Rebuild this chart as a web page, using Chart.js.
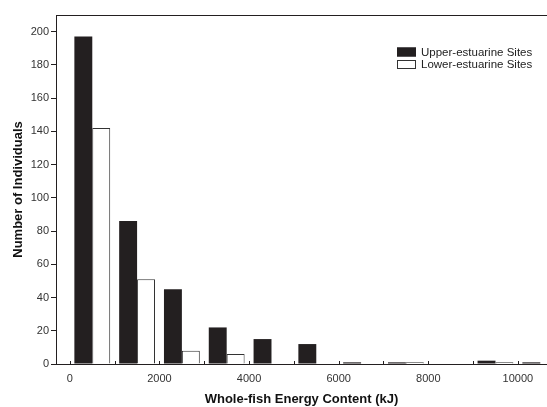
<!DOCTYPE html>
<html>
<head>
<meta charset="utf-8">
<script src="https://cdn.jsdelivr.net/npm/chart.js"></script>
<style>
html,body{margin:0;padding:0;background:#fff;overflow:hidden;}
#wrap{width:547px;height:407px;position:relative;}
</style>
</head>
<body>
<div id="wrap"><canvas id="c" width="547" height="407"></canvas></div>
<script>
// Bin centres (kJ), 1000 kJ bins
const binCenters = [500, 1500, 2500, 3500, 4500, 5500, 6500, 7500, 8500, 9500, 10500];
const upperCounts = [197, 86, 45, 22, 15, 12, 1, 1, 0, 2, 1];
const lowerCounts = [142, 51, 8, 6, 0, 0, 0, 1, 0, 1, 0];
const seriesLabels = ['Upper-estuarine Sites', 'Lower-estuarine Sites'];
const xTickValues = [0, 1000, 2000, 3000, 4000, 5000, 6000, 7000, 8000, 9000, 10000];
const xLabelTicks = [0, 2000, 4000, 6000, 8000, 10000];
const yTickValues = [0, 20, 40, 60, 80, 100, 120, 140, 160, 180, 200];

const FONT = '"Liberation Sans", Arial, Helvetica, sans-serif';
const INK = '#231f20';

const toPts = arr => arr.map((v, i) => ({x: binCenters[i], y: v}));

const innerTicks = {
  id: 'innerTicks',
  afterDraw(chart) {
    const ctx = chart.ctx, xs = chart.scales.x, ca = chart.chartArea;
    ctx.save();
    ctx.strokeStyle = INK; ctx.lineWidth = 1;
    ctx.beginPath();
    xs.ticks.forEach(t => {
      const px = Math.round(xs.getPixelForValue(t.value)) + 0.5;
      ctx.moveTo(px, ca.bottom); ctx.lineTo(px, ca.bottom - 3);
    });
    ctx.moveTo(ca.left, Math.round(ca.top) + 0.5);
    ctx.lineTo(ca.right, Math.round(ca.top) + 0.5);
    ctx.stroke();
    ctx.restore();
  }
};

const boxLegend = {
  id: 'boxLegend',
  afterDraw(chart) {
    const ctx = chart.ctx;
    ctx.save();
    ctx.font = '11.5px ' + FONT;
    ctx.textBaseline = 'middle';
    chart.data.datasets.forEach((ds, i) => {
      const y = 47.5 + i * 12.5;
      ctx.fillStyle = ds.backgroundColor;
      ctx.fillRect(397, y, 19, 9);
      ctx.strokeStyle = ds.borderColor; ctx.lineWidth = 1;
      ctx.strokeRect(397.5, y + 0.5, 18, 8);
      ctx.fillStyle = '#222';
      ctx.fillText(ds.label, 421, y + 5);
    });
    ctx.restore();
  }
};

new Chart(document.getElementById('c'), {
  type: 'bar',
  data: {
    datasets: [
      {label: seriesLabels[0], data: toPts(upperCounts), backgroundColor: INK, borderColor: INK,
       borderWidth: 0},
      {label: seriesLabels[1], data: toPts(lowerCounts), backgroundColor: '#ffffff', borderColor: '#333333',
       borderWidth: c => (c.raw && c.raw.y === 0) ? 0 : 1}
    ]
  },
  options: {
    responsive: false,
    animation: false,
    devicePixelRatio: 1,
    layout: {padding: {top: 15, right: 0, left: 0, bottom: 0}},
    datasets: {bar: {categoryPercentage: 0.8, barPercentage: 1.0, grouped: true}},
    plugins: {legend: {display: false}, tooltip: {enabled: false}},
    scales: {
      x: {
        type: 'linear', min: -310, max: 10650, offset: false,
        afterBuildTicks: s => { s.ticks = xTickValues.map(v => ({value: v})); },
        afterFit: s => { s.height = 43; },
        ticks: {autoSkip: false, maxRotation: 0, minRotation: 0, padding: 8,
          color: '#333', font: {family: FONT, size: 11},
          callback: v => xLabelTicks.includes(v) ? String(v) : ''},
        grid: {display: true, drawOnChartArea: false, drawTicks: false, offset: false},
        border: {display: true, color: INK, width: 1},
        title: {display: true, text: 'Whole-fish Energy Content (kJ)', color: '#111',
          font: {family: FONT, size: 13, weight: 'bold'}, padding: {top: 0, bottom: 0}}
      },
      y: {
        min: 0, max: 210,
        afterBuildTicks: s => { s.ticks = yTickValues.map(v => ({value: v})); },
        afterFit: s => { s.width = 56; },
        ticks: {padding: 2, color: '#333', font: {family: FONT, size: 11}},
        grid: {display: true, drawOnChartArea: false, drawTicks: true, tickLength: 5, color: INK},
        border: {display: true, color: INK, width: 1},
        title: {display: true, text: 'Number of Individuals', color: '#111',
          font: {family: FONT, size: 13, weight: 'bold'}, padding: {top: 11, bottom: 0}}
      }
    }
  },
  plugins: [innerTicks, boxLegend]
});
</script>
</body>
</html>
